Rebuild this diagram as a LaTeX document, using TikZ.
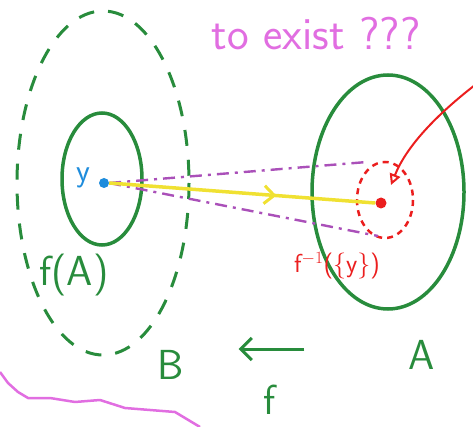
\documentclass[tikz,border=0pt]{standalone}
\usetikzlibrary{arrows.meta,decorations.pathmorphing,decorations.markings}
\definecolor{pgreen}{RGB}{40,140,60}
\definecolor{pred}{RGB}{235,30,30}
\definecolor{ppurple}{RGB}{170,80,185}
\definecolor{pyellow}{RGB}{240,225,50}
\definecolor{pviolet}{RGB}{225,110,225}
\definecolor{pblue}{RGB}{30,140,220}
\tikzset{
  setline/.style={draw=pgreen, line width=3.5pt},
  dashset/.style={setline, line width=3pt, dash pattern=on 16pt off 14pt},
  fibre/.style={draw=pred, line width=2.5pt, dash pattern=on 6pt off 5pt},
  hint/.style={draw=ppurple, line width=2.4pt, dash pattern=on 12pt off 6pt on 3pt off 6pt},
  ylab/.style={text=pgreen, font=\sffamily\fontsize{42}{46}\selectfont, inner sep=0pt},
}
\begin{document}
\begin{tikzpicture}[x=1pt,y=-1pt]
\useasboundingbox (0,0) rectangle (473,427);
% big dashed set B
\draw[dashset] (103,183) ellipse [x radius=86, y radius=172];
% f(A)
\draw[setline] (102,179) ellipse [x radius=40, y radius=66];
% A
\draw[setline] (388,192) ellipse [x radius=76, y radius=117];
% fibre
\draw[fibre] (385,200) ellipse [x radius=28, y radius=38];
% points
\node[circle, fill=pblue, inner sep=0pt, minimum size=10pt] (y) at (104,183) {};
\node[circle, fill=pred, inner sep=0pt, minimum size=11pt] (x) at (381,203) {};
\node[text=pblue, font=\sffamily\fontsize{32}{36}\selectfont, inner sep=0pt] (ylabel) at (83,178) {y};
% purple hint lines
\coordinate (hu) at (367,162);
\coordinate (hl) at (378,236);
\draw[hint] (y.east) -- (hu);
\draw[hint] (y.east) -- (hl);
% yellow connector
\draw[draw=pyellow, line width=3.5pt,
  postaction={decorate, decoration={markings, mark=at position 0.62 with {\draw[pyellow, line width=3pt] (-10pt,-9pt) -- (0,0) -- (-10pt,9pt);}}}]
  (y.east) -- (x.west);
% red pointer
\coordinate (rs) at (475,85);
\draw[pred, line width=2pt, -{Triangle[open, length=11pt, width=11pt, line width=2pt]}] (rs) .. controls (430,120) and (405,150) .. (391,185);
% labels
\node[ylab] (fa) at (74,275) {f(A)};
\node[text=pred, font=\sffamily\fontsize{26}{30}\selectfont, inner sep=0pt] (fib) at (337,266) {f$^{-1}$(\{y\})};
\node[ylab] (B) at (171,365) {B};
\node[ylab] (A) at (422,355) {A};
\node[inner sep=0pt] (fr) at (305,349) {};
\node[inner sep=0pt] (fl) at (238,349) {};
\draw[pgreen, line width=3pt, -{Straight Barb[length=11pt, width=22pt, line width=3pt]}] (fr) -- (fl);
\node[ylab] (f) at (270,400) {f};
% violet note
\node[text=pviolet, font=\sffamily\fontsize{46}{50}\selectfont, inner sep=0pt] (note) at (316,34) {to exist ???};
% violet wavy stroke
\draw[pviolet, line width=2.5pt, line join=round] (0,372) -- (8,383) -- (18,392) -- (28,398) -- (50,398) -- (75,402) -- (100,400) -- (125,408) -- (150,410) -- (175,412) -- (200,427);
\end{tikzpicture}
\end{document}
